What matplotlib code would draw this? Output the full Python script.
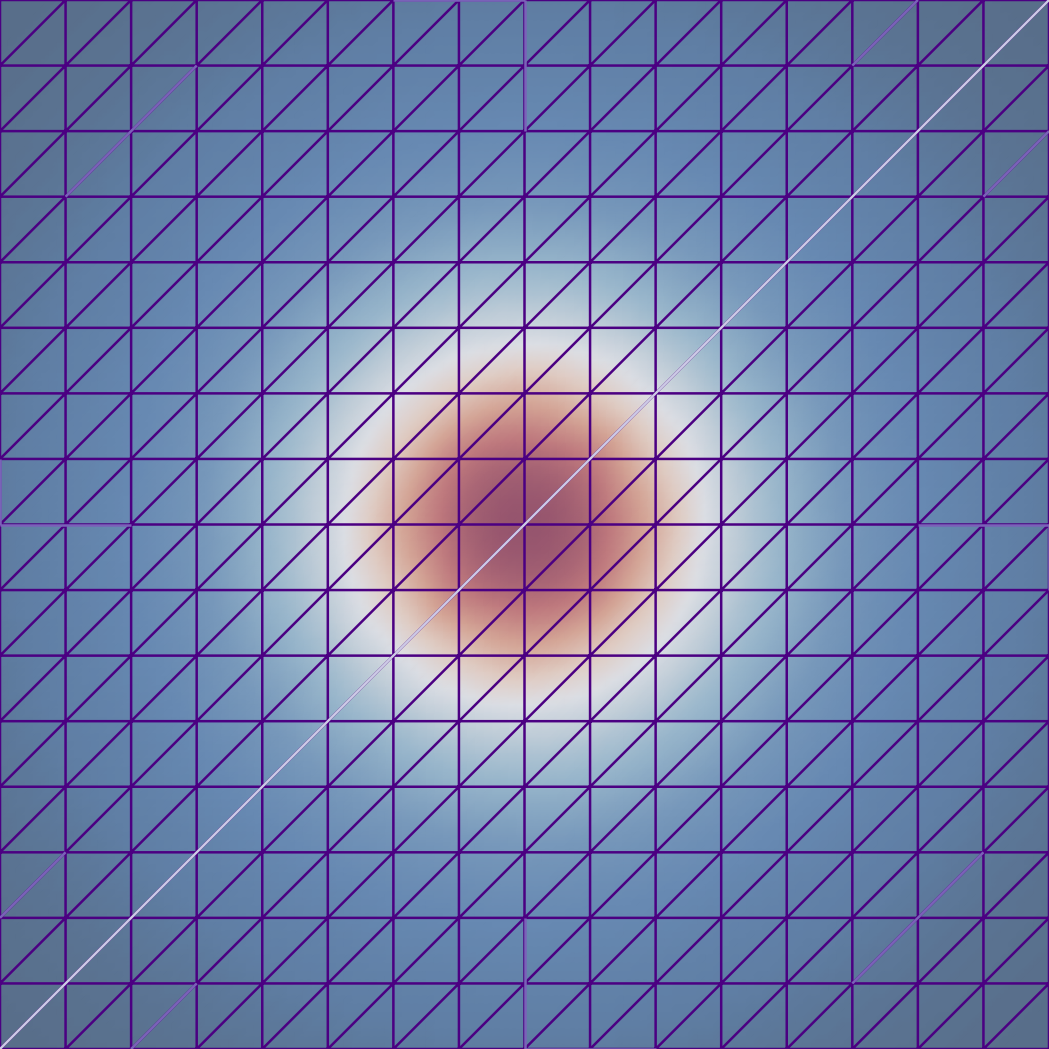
import numpy as np
import matplotlib

matplotlib.use("Agg")
import matplotlib.pyplot as plt
import matplotlib.tri as mtri
from matplotlib.colors import LinearSegmentedColormap

n_cells = 16

# field value at a node, indexed by |column offset|, |row offset| from the centre node
quadrant_values = [
    [1.00, 0.93, 0.71, 0.44, 0.29, 0.190, 0.125, 0.080, 0.046],
    [0.93, 0.86, 0.63, 0.41, 0.28, 0.180, 0.120, 0.078, 0.045],
    [0.71, 0.63, 0.48, 0.34, 0.24, 0.160, 0.110, 0.070, 0.040],
    [0.44, 0.41, 0.34, 0.265, 0.19, 0.135, 0.090, 0.058, 0.033],
    [0.29, 0.28, 0.24, 0.19, 0.145, 0.105, 0.072, 0.045, 0.025],
    [0.190, 0.180, 0.160, 0.135, 0.105, 0.078, 0.052, 0.031, 0.017],
    [0.125, 0.120, 0.110, 0.090, 0.072, 0.052, 0.034, 0.020, 0.010],
    [0.080, 0.078, 0.070, 0.058, 0.045, 0.031, 0.020, 0.011, 0.005],
    [0.046, 0.045, 0.040, 0.033, 0.025, 0.017, 0.010, 0.005, 0.000],
]

# colour stops of the field
cmap_stops = [0.0, 0.05, 0.12, 0.20, 0.30, 0.40, 0.50, 0.62, 0.75, 0.88, 1.0]
cmap_colors = ["#586e8a", "#5f7ea4", "#6789b2", "#7899bb", "#98b6cb", "#c0cdd8",
               "#dcdee4", "#dfcbc2", "#d4a596", "#be787d", "#96556e"]

# mesh edges that show lighter, (i0, j0, i1, j1) in node coordinates
pale_edges = [(0, 0, 16, 16)]
faint_edges = [
    (1, 13, 3, 15), (13, 1, 15, 3),
    (13, 15, 14, 16), (15, 13, 16, 14),
    (0, 2, 1, 3), (2, 0, 3, 1),
    (8, 14, 8, 16), (6, 16, 8, 16),
    (8, 0, 8, 2), (8, 0, 10, 0),
    (0, 8, 2, 8), (0, 8, 0, 9),
    (14, 8, 16, 8), (16, 7, 16, 8),
]

# grid nodes and "/" split triangles
xs, ys = np.meshgrid(np.arange(n_cells + 1), np.arange(n_cells + 1))
x = xs.ravel().astype(float)
y = ys.ravel().astype(float)
triangles = []
for j in range(n_cells):
    for i in range(n_cells):
        a = j * (n_cells + 1) + i
        b = a + 1
        d = a + n_cells + 1
        c = d + 1
        triangles.append([a, b, c])
        triangles.append([a, c, d])
tri = mtri.Triangulation(x, y, triangles)

q = np.array(quadrant_values)
off = np.abs(np.arange(n_cells + 1) - n_cells // 2)
z = q[off[:, None], off[None, :]].ravel()

refiner = mtri.UniformTriRefiner(tri)
interp = mtri.CubicTriInterpolator(tri, z, kind="geom")
tri_f, z_f = refiner.refine_field(z, triinterpolator=interp, subdiv=3)

cmap = LinearSegmentedColormap.from_list("field", list(zip(cmap_stops, cmap_colors)))

fig = plt.figure(figsize=(10.49, 10.49), dpi=100)
ax = fig.add_axes([0, 0, 1, 1])
ax.tripcolor(tri_f, z_f, cmap=cmap, shading="gouraud", vmin=0, vmax=1)
ax.triplot(tri, color="#4b0082", lw=1.8)

for i0, j0, i1, j1 in faint_edges:
    ax.plot([i0, i1], [j0, j1], color="#7a62b8", lw=1.8, solid_capstyle="butt")
for i0, j0, i1, j1 in pale_edges:
    ax.plot([i0, i1], [j0, j1], color="#cdcbe6", lw=1.7, solid_capstyle="butt")

ax.set_xlim(0, n_cells)
ax.set_ylim(0, n_cells)
ax.axis("off")

fig.savefig("out.png", dpi=100)
plt.close(fig)
